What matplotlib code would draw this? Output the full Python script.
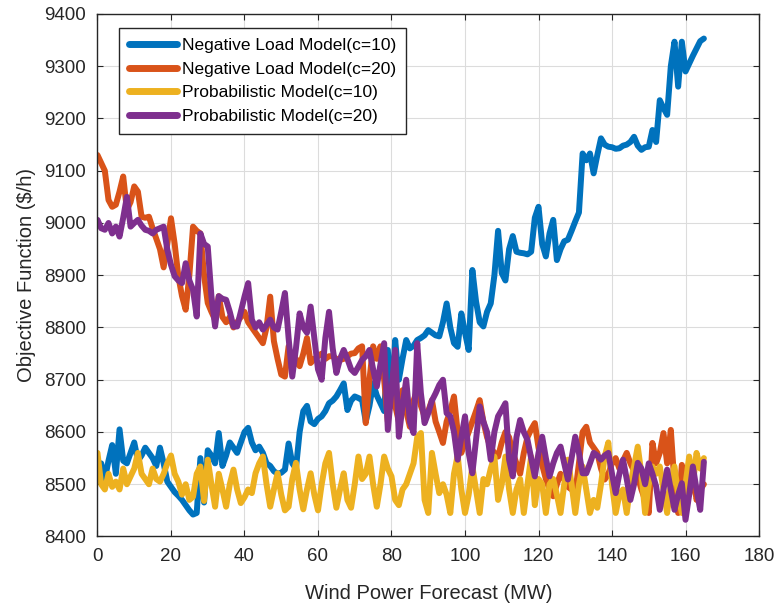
import numpy as np
import matplotlib
matplotlib.use("Agg")
import matplotlib.pyplot as plt

plt.rcParams['font.family'] = ['Liberation Sans', 'DejaVu Sans']

# wind power forecast, 1 MW steps
wind = list(range(0, 166))

neg_c10 = [8505, 8540, 8510, 8545, 8575, 8520, 8605, 8545, 8540, 8560,
           8580, 8545, 8555, 8570, 8560, 8550, 8535, 8570, 8540, 8505,
           8495, 8485, 8478, 8470, 8460, 8450, 8442, 8445, 8550, 8465,
           8565, 8555, 8540, 8598, 8535, 8555, 8580, 8570, 8560, 8580,
           8600, 8608, 8580, 8565, 8572, 8560, 8540, 8535, 8525, 8520,
           8522, 8528, 8578, 8540, 8530, 8600, 8640, 8650, 8620, 8615,
           8625, 8630, 8640, 8655, 8660, 8668, 8680, 8693, 8642, 8660,
           8668, 8665, 8661, 8620, 8650, 8693, 8670, 8655, 8640, 8757,
           8650, 8776, 8700, 8740, 8776, 8760, 8765, 8776, 8780, 8785,
           8795, 8790, 8785, 8783, 8810, 8846, 8800, 8770, 8763, 8827,
           8790, 8757, 8910, 8850, 8810, 8802, 8830, 8846, 8900, 8985,
           8904, 8890, 8950, 8975, 8945, 8943, 8942, 8940, 8945, 9010,
           9031, 8960, 8936, 8980, 9006, 8929, 8950, 8965, 8968, 8985,
           9003, 9020, 9133, 9120, 9133, 9095, 9130, 9162, 9150, 9146,
           9145, 9142, 9143, 9148, 9150, 9155, 9165, 9148, 9140, 9145,
           9146, 9178, 9155, 9235, 9220, 9207, 9300, 9347, 9261, 9347,
           9290, 9305, 9320, 9334, 9348, 9353]

neg_c20 = [9130, 9115, 9100, 9044, 9031, 9035, 9060, 9089, 9025, 9040,
           9070, 9060, 9012, 9010, 9012, 8990, 8970, 8950, 8915, 8960,
           9009, 8960, 8898, 8860, 8834, 8900, 8993, 8985, 8980, 8900,
           8847, 8830, 8815, 8860, 8820, 8810, 8820, 8800, 8810, 8820,
           8830, 8810, 8800, 8790, 8780, 8770, 8800, 8859, 8774, 8740,
           8710, 8706, 8764, 8720, 8740, 8726, 8750, 8780, 8732, 8740,
           8745, 8750, 8740, 8745, 8745, 8740, 8738, 8740, 8745, 8750,
           8751, 8760, 8764, 8617, 8700, 8764, 8740, 8764, 8700, 8620,
           8680, 8650, 8620, 8680, 8640, 8610, 8660, 8680, 8650, 8630,
           8640, 8661, 8620, 8600, 8579, 8620, 8640, 8668, 8600, 8560,
           8580, 8600, 8620, 8640, 8661, 8620, 8590, 8570, 8560, 8553,
           8580, 8600, 8590, 8560, 8540, 8520, 8560, 8590, 8605, 8617,
           8570, 8537, 8510, 8490, 8477, 8500, 8520, 8509, 8495, 8490,
           8483, 8540, 8600, 8610, 8580, 8570, 8560, 8530, 8509, 8520,
           8540, 8550, 8530, 8545, 8560, 8540, 8525, 8515, 8490, 8470,
           8445, 8579, 8540, 8560, 8598, 8540, 8604, 8500, 8445, 8537,
           8500, 8480, 8520, 8470, 8490, 8500]

prob_c10 = [8560, 8500, 8490, 8520, 8495, 8505, 8490, 8530, 8500, 8515,
            8530, 8560, 8520, 8510, 8500, 8530, 8510, 8505, 8520, 8540,
            8555, 8520, 8505, 8480, 8500, 8470, 8476, 8520, 8534, 8468,
            8547, 8500, 8457, 8520, 8490, 8457, 8500, 8528, 8490, 8464,
            8475, 8490, 8483, 8521, 8540, 8553, 8500, 8457, 8490, 8521,
            8480, 8450, 8457, 8510, 8541, 8490, 8452, 8490, 8521, 8480,
            8450, 8500, 8540, 8560, 8500, 8455, 8490, 8521, 8470, 8455,
            8500, 8553, 8510, 8520, 8553, 8500, 8457, 8500, 8553, 8530,
            8515, 8470, 8460, 8490, 8500, 8520, 8540, 8590, 8598, 8470,
            8445, 8560, 8520, 8483, 8500, 8480, 8445, 8520, 8555, 8490,
            8445, 8480, 8534, 8490, 8445, 8510, 8500, 8530, 8553, 8470,
            8500, 8553, 8490, 8445, 8490, 8510, 8445, 8500, 8553, 8460,
            8510, 8500, 8445, 8500, 8510, 8480, 8445, 8500, 8547, 8500,
            8445, 8500, 8534, 8490, 8445, 8470, 8455, 8500, 8553, 8580,
            8500, 8445, 8480, 8490, 8445, 8500, 8534, 8572, 8520, 8445,
            8500, 8534, 8520, 8534, 8490, 8445, 8500, 8534, 8480, 8445,
            8500, 8553, 8500, 8560, 8530, 8550]

prob_c20 = [9006, 8990, 8987, 9000, 8980, 8993, 8974, 9010, 9050, 8993,
            9000, 9006, 8995, 8987, 8985, 8980, 8987, 8990, 8993, 8949,
            8920, 8898, 8890, 8885, 8923, 8890, 8872, 8821, 8980, 8960,
            8955, 8860, 8802, 8860, 8855, 8853, 8830, 8802, 8802, 8830,
            8859, 8885, 8815, 8800, 8810, 8796, 8805, 8815, 8800, 8796,
            8830, 8866, 8780, 8706, 8760, 8827, 8800, 8790, 8840, 8780,
            8720, 8700, 8780, 8830, 8760, 8713, 8740, 8757, 8740, 8720,
            8713, 8725, 8738, 8745, 8757, 8720, 8687, 8730, 8770, 8604,
            8680, 8757, 8591, 8650, 8700, 8620, 8598, 8770, 8674, 8617,
            8636, 8660, 8674, 8690, 8700, 8636, 8630, 8600, 8547, 8590,
            8630, 8560, 8521, 8585, 8649, 8620, 8600, 8547, 8600, 8630,
            8642, 8655, 8547, 8515, 8590, 8623, 8600, 8585, 8550, 8515,
            8560, 8591, 8550, 8515, 8540, 8560, 8572, 8540, 8509, 8550,
            8591, 8560, 8521, 8521, 8540, 8560, 8555, 8547, 8555, 8560,
            8520, 8483, 8520, 8547, 8510, 8470, 8500, 8541, 8530, 8500,
            8540, 8520, 8496, 8451, 8490, 8528, 8490, 8451, 8480, 8502,
            8432, 8480, 8534, 8490, 8451, 8543]

labels = ['Negative Load Model(c=10)', 'Negative Load Model(c=20)',
          'Probabilistic Model(c=10)', 'Probabilistic Model(c=20)']
colors = ['#0072BD', '#D95319', '#EDB120', '#7E2F8E']

fig = plt.figure(figsize=(7.78, 6.06), dpi=100)
ax = fig.add_axes([0.1253, 0.1147, 0.8503, 0.8622])

for ys, lab, c in zip([neg_c10, neg_c20, prob_c10, prob_c20], labels, colors):
    ax.plot(wind, ys, color=c, lw=4.3, label=lab,
            solid_joinstyle='round', solid_capstyle='round')

ax.set_xlim(0, 180)
ax.set_ylim(8400, 9400)
ax.set_xticks(np.arange(0, 181, 20))
ax.set_yticks(np.arange(8400, 9401, 100))
ax.grid(True, color='#dcdcdc', lw=0.8)
ax.set_axisbelow(True)
ax.tick_params(direction='in', top=True, right=True, length=4,
               labelsize=13.5, colors='#262626', pad=8)
for s in ax.spines.values():
    s.set_color('#262626')
    s.set_linewidth(1.0)

ax.set_xlabel('Wind Power Forecast (MW)', fontsize=14.5, color='#262626', labelpad=14)
ax.set_ylabel('Objective Function ($/h)', fontsize=14.5, color='#262626', labelpad=6)

leg = ax.legend(loc='upper left', bbox_to_anchor=(0.0325, 0.973), borderaxespad=0,
                fontsize=12.5, fancybox=False, framealpha=1, edgecolor='#262626',
                handlelength=2.8, handletextpad=0.3, labelspacing=0.5,
                borderpad=0.55)
leg.get_frame().set_linewidth(1.0)
for h in leg.get_lines():
    h.set_linewidth(5)

fig.savefig('out.png', dpi=100)
